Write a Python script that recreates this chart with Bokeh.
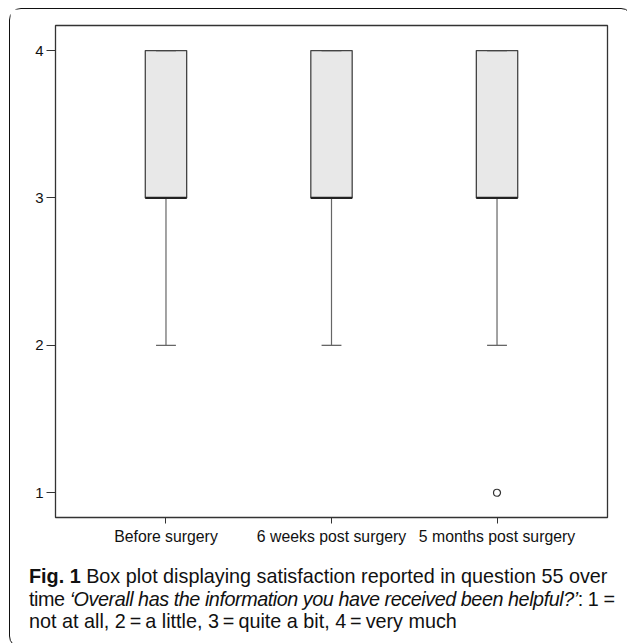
from bokeh.plotting import figure
from bokeh.models import FactorRange, Range1d, ColumnDataSource, Div
from bokeh.layouts import column
from bokeh.transform import dodge
from bokeh.embed import file_html
from bokeh.resources import INLINE

# ---- data ----
categories = ["Before surgery", "6 weeks post surgery", "5 months post surgery"]
q1 = [3, 3, 3]
median = [3, 3, 3]
q3 = [4, 4, 4]
whisker_low = [2, 2, 2]
whisker_high = [4, 4, 4]
outlier_cats = ["5 months post surgery"]
outlier_vals = [1]
y_ticks = [1, 2, 3, 4]

src = ColumnDataSource(dict(cat=categories, q1=q1, med=median, q3=q3,
                            lo=whisker_low, hi=whisker_high))

p = figure(width=612, height=550, output_backend="svg", toolbar_location=None,
           x_range=FactorRange(factors=categories, range_padding=0.1675,
                               range_padding_units="absolute"),
           y_range=Range1d(0.832, 4.17),
           min_border_left=45, min_border_right=15, min_border_top=16,
           min_border_bottom=42)
p.grid.visible = False
p.outline_line_color = "#333333"
p.outline_line_width = 1.3
p.background_fill_color = "white"
p.border_fill_color = "white"

for ax in (p.xaxis[0], p.yaxis[0]):
    ax.axis_line_color = None
    ax.major_tick_in = 0
    ax.minor_tick_line_color = None
    ax.major_tick_line_color = "#333333"
    ax.major_label_text_font = "Liberation Sans"
    ax.major_label_text_color = "#111111"

p.yaxis.ticker = y_ticks
p.yaxis.major_tick_out = 9
p.yaxis.major_label_standoff = 3
p.yaxis.major_label_text_font_size = "15px"
p.xaxis.major_tick_out = 6
p.xaxis.major_label_standoff = 4
p.xaxis.major_label_text_font_size = "15.8px"

whisk_col = "#666666"
# lower whisker stems
p.segment(x0="cat", y0="q1", x1="cat", y1="lo", source=src,
          line_color=whisk_col, line_width=1.2)
# boxes
p.vbar(x="cat", bottom="q1", top="q3", width=0.25, source=src,
       fill_color="#e8e8e8", line_color="#444444", line_width=1.3)
# whisker caps
for col in ("lo", "hi"):
    p.segment(x0=dodge("cat", -0.06, range=p.x_range), y0=col,
              x1=dodge("cat", 0.06, range=p.x_range), y1=col, source=src,
              line_color=whisk_col if col == "lo" else "#444444", line_width=1.3)
# medians
p.segment(x0=dodge("cat", -0.125, range=p.x_range), y0="med",
          x1=dodge("cat", 0.125, range=p.x_range), y1="med", source=src,
          line_color="#222222", line_width=2.2)
# outliers
p.scatter(x=outlier_cats, y=outlier_vals, marker="circle", size=7,
          fill_color="white", line_color="#333333", line_width=1.2)

caption_html = (
    '<div style="padding-left:14px; padding-top:1px; white-space:nowrap; '
    'font-family:\'Liberation Sans\'; font-size:19.8px; '
    'line-height:22.7px; color:#111111;">'
    '<b>Fig. 1</b> Box plot displaying satisfaction reported in question 55 over<br>'
    '<span style="letter-spacing:-0.45px;">time <i>\u2018Overall has the information '
    'you have received been helpful?\u2019</i>: 1 =</span><br>'
    'not at all, 2\u2009=\u2009a little, 3\u2009=\u2009quite a bit, 4\u2009=\u2009very much'
    '</div>'
)
cap = Div(text=caption_html, width=612, height=78)

layout = column(p, cap, spacing=0,
                styles={"margin-left": "9px", "margin-top": "8px",
                        "border": "1.5px solid #111111",
                        "border-radius": "12px", "background": "white"})

open("out.html", "w").write(file_html(layout, INLINE))
